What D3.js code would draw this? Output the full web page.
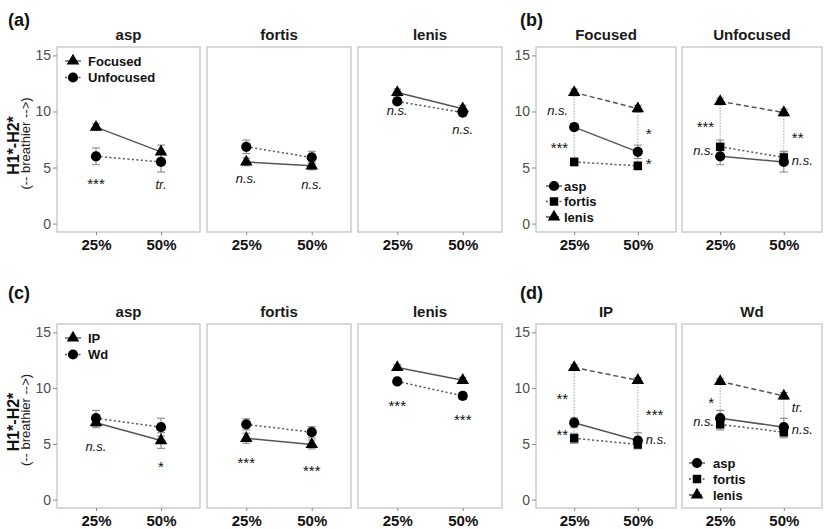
<!DOCTYPE html>
<html><head><meta charset="utf-8">
<script src="https://cdn.jsdelivr.net/npm/d3@7"></script>
<style>body{margin:0;background:#fff;} text{font-family:"Liberation Sans",Arial,Helvetica,sans-serif;}</style>
</head><body><svg id="chart" width="827" height="529"></svg>
<script>
const timePoints = ["25%", "50%"];
const consonants = ["asp", "fortis", "lenis"];
const focusLevels = ["Focused", "Unfocused"];
const prosodyLevels = ["IP", "Wd"];
const yTicks = [0, 5, 10, 15];
// means / standard errors by consonant (asp, fortis, lenis) x time (25%, 50%)
const focusedMeans   = [[8.6, 6.4], [5.5, 5.15], [11.7, 10.25]];
const focusedSE      = [[0.3, 0.6], [0.35, 0.35], [0.3, 0.3]];
const unfocusedMeans = [[6.0, 5.5], [6.85, 5.9], [10.9, 9.9]];
const unfocusedSE    = [[0.75, 0.9], [0.6, 0.55], [0.3, 0.3]];
const ipMeans        = [[6.9, 5.3], [5.5, 4.95], [11.85, 10.7]];
const ipSE           = [[0.45, 0.7], [0.45, 0.4], [0.25, 0.25]];
const wdMeans        = [[7.3, 6.5], [6.75, 6.05], [10.6, 9.3]];
const wdSE           = [[0.7, 0.8], [0.5, 0.5], [0.25, 0.3]];
// significance labels: [facet, time, y-value, label]
const sigA = [["asp","25%",3.9,"***"],["asp","50%",3.4,"tr."],["fortis","25%",3.9,"n.s."],["fortis","50%",3.4,"n.s."],["lenis","25%",10.0,"n.s."],["lenis","50%",8.3,"n.s."]];
const sigB = [["Focused","25%",10.0,"n.s."],["Focused","25%",7.05,"***"],["Focused","50%",8.3,"*"],["Focused","50%",5.7,"*"],["Unfocused","25%",8.93,"***"],["Unfocused","25%",6.43,"n.s."],["Unfocused","50%",7.95,"**"],["Unfocused","50%",5.54,"n.s."]];
const sigC = [["asp","25%",4.7,"n.s."],["asp","50%",3.28,"*"],["fortis","25%",3.64,"***"],["fortis","50%",2.93,"***"],["lenis","25%",8.72,"***"],["lenis","50%",7.48,"***"]];
const sigD = [["IP","25%",9.4,"**"],["IP","25%",6.12,"**"],["IP","50%",7.92,"***"],["IP","50%",5.32,"n.s."],["Wd","25%",9.05,"*"],["Wd","25%",6.92,"n.s."],["Wd","50%",8.16,"tr."],["Wd","50%",6.21,"n.s."]];

const svg = d3.select("#chart");
svg.append("rect").attr("width", 827).attr("height", 529).attr("fill", "#fff");

const LINE = "#555", ERR = "#8a8a8a", BORDER = "#c8c8c8";
const styleA = { Focused: { sym: d3.symbolTriangle, size: 68, dash: null },
                 Unfocused: { sym: d3.symbolCircle, size: 82, dash: "2,2.5" } };
const styleC = { IP: styleA.Focused, Wd: styleA.Unfocused };
const styleCons = { asp: { sym: d3.symbolCircle, size: 82, dash: null },
                    fortis: { sym: d3.symbolSquare, size: 72, dash: "2,2.5" },
                    lenis: { sym: d3.symbolTriangle, size: 68, dash: "5,3" } };

function starOnly(t) { return /^\*+$/.test(t); }

function drawPanel(p) {
  const g = svg.append("g");
  const x = d3.scalePoint().domain(timePoints).range([p.left, p.right]).padding(0.6);
  const y = d3.scaleLinear().domain([-0.75, 15.75]).range([p.bottom, p.top]);
  g.append("rect").attr("x", p.left).attr("y", p.top).attr("width", p.right - p.left)
    .attr("height", p.bottom - p.top).attr("fill", "none").attr("stroke", BORDER).attr("stroke-width", 1.4);
  g.append("text").attr("x", (p.left + p.right) / 2).attr("y", p.top - 7).attr("text-anchor", "middle")
    .attr("font-size", 15).attr("font-weight", "bold").attr("fill", "#1a1a1a").text(p.title);
  const xa = g.append("g").attr("transform", `translate(0,${p.bottom})`)
    .call(d3.axisBottom(x).tickSize(3).tickPadding(4));
  xa.select(".domain").remove();
  xa.selectAll("line").attr("stroke", "#888");
  xa.selectAll("text").attr("font-size", 15).attr("font-weight", "bold").attr("fill", "#111")
    .attr("font-family", '"Liberation Sans",Arial,sans-serif');
  if (p.yAxis) {
    const ya = g.append("g").attr("transform", `translate(${p.left},0)`)
      .call(d3.axisLeft(y).tickValues(yTicks).tickSize(4).tickPadding(2));
    ya.select(".domain").remove();
    ya.selectAll("line").attr("stroke", "#888");
    ya.selectAll("text").attr("font-size", 14).attr("fill", "#4d4d4d")
      .attr("font-family", '"Liberation Sans",Arial,sans-serif');
  }
  if (p.connectors) {
    timePoints.forEach((t, i) => {
      const vals = p.series.map(s => s.means[i]);
      g.append("line").attr("x1", x(t)).attr("x2", x(t))
        .attr("y1", y(d3.max(vals))).attr("y2", y(d3.min(vals)))
        .attr("stroke", "#a0a0a0").attr("stroke-width", 1).attr("stroke-dasharray", "1.5,1.5");
    });
  }
  p.series.forEach(s => {
    timePoints.forEach((t, i) => {
      const lo = y(s.means[i] - s.se[i]), hi = y(s.means[i] + s.se[i]), cx = x(t);
      g.append("line").attr("x1", cx).attr("x2", cx).attr("y1", lo).attr("y2", hi).attr("stroke", ERR).attr("stroke-width", 1.1);
      [lo, hi].forEach(yy => g.append("line").attr("x1", cx - 4).attr("x2", cx + 4).attr("y1", yy).attr("y2", yy)
        .attr("stroke", ERR).attr("stroke-width", 1.1));
    });
  });
  p.series.forEach(s => {
    const line = d3.line().x((d, i) => x(timePoints[i])).y(d => y(d));
    g.append("path").attr("d", line(s.means)).attr("fill", "none").attr("stroke", LINE)
      .attr("stroke-width", 1.5).attr("stroke-dasharray", s.style.dash);
  });
  p.series.forEach(s => {
    timePoints.forEach((t, i) => {
      g.append("path").attr("d", d3.symbol().type(s.style.sym).size(s.style.size)())
        .attr("transform", `translate(${x(t)},${y(s.means[i])})`).attr("fill", "#000");
    });
  });
  p.sig.forEach(([f, t, v, lab]) => {
    let ax = x(t), anchor = "middle";
    if (p.sideLabels) {
      if (t === timePoints[0]) { ax = x(t) - 6; anchor = "end"; }
      else { ax = x(t) + 8; anchor = "start"; }
    }
    const star = starOnly(lab);
    const fs = star ? 15 : 13;
    const off = star ? 0.59 * fs : 0.27 * fs;
    g.append("text").attr("x", ax).attr("y", y(v) + off).attr("text-anchor", anchor)
      .attr("font-size", fs).attr("font-style", star ? "normal" : "italic")
      .attr("fill", "#111").text(lab);
  });
  return { x, y };
}

function drawLegend(items, sx, tx, ys) {
  items.forEach((it, i) => {
    const yy = ys[i];
    svg.append("line").attr("x1", sx - 8).attr("x2", sx + 8).attr("y1", yy).attr("y2", yy)
      .attr("stroke", LINE).attr("stroke-width", 1.4).attr("stroke-dasharray", it.style.dash);
    svg.append("path").attr("d", d3.symbol().type(it.style.sym).size(it.style.size)())
      .attr("transform", `translate(${sx},${yy})`).attr("fill", "#000");
    svg.append("text").attr("x", tx).attr("y", yy + 4.6).attr("font-size", 13).attr("font-weight", "bold")
      .attr("fill", "#111").text(it.label);
  });
}

const rows = [{ top: 47, bottom: 232 }, { top: 324, bottom: 508 }];
const leftCols = [[57, 200], [207, 351], [358, 502]];
const rightCols = [[536, 676], [682, 822]];

[[focusedMeans, focusedSE, unfocusedMeans, unfocusedSE, focusLevels, styleA, sigA, rows[0]],
 [ipMeans, ipSE, wdMeans, wdSE, prosodyLevels, styleC, sigC, rows[1]]].forEach(([m1, s1, m2, s2, lv, st, sig, row]) => {
  consonants.forEach((c, ci) => {
    drawPanel({
      left: leftCols[ci][0], right: leftCols[ci][1], top: row.top, bottom: row.bottom, title: c,
      yAxis: ci === 0, connectors: false, sideLabels: false,
      series: [{ means: m1[ci], se: s1[ci], style: st[lv[0]] }, { means: m2[ci], se: s2[ci], style: st[lv[1]] }],
      sig: sig.filter(d => d[0] === c)
    });
  });
  drawLegend(lv.map(l => ({ label: l, style: st[l] })), leftCols[0][0] + 16, leftCols[0][0] + 31,
    [row.top + 14, row.top + 30.5]);
});

[[[focusedMeans, focusedSE], [unfocusedMeans, unfocusedSE], focusLevels, sigB, rows[0]],
 [[ipMeans, ipSE], [wdMeans, wdSE], prosodyLevels, sigD, rows[1]]].forEach(([a, b, lv, sig, row]) => {
  [a, b].forEach(([means, se], fi) => {
    drawPanel({
      left: rightCols[fi][0], right: rightCols[fi][1], top: row.top, bottom: row.bottom, title: lv[fi],
      yAxis: fi === 0, connectors: true, sideLabels: true,
      series: consonants.map((c, ci) => ({ means: means[ci], se: se[ci], style: styleCons[c] })),
      sig: sig.filter(d => d[0] === lv[fi])
    });
  });
});
drawLegend(consonants.map(c => ({ label: c, style: styleCons[c] })), rightCols[0][0] + 18, rightCols[0][0] + 28,
  [rows[0].bottom - 46, rows[0].bottom - 30.5, rows[0].bottom - 15]);
drawLegend(consonants.map(c => ({ label: c, style: styleCons[c] })), rightCols[1][0] + 15, rightCols[1][0] + 31,
  [rows[1].bottom - 45, rows[1].bottom - 29, rows[1].bottom - 13]);

[["(a)", 8, 26], ["(b)", 520, 26], ["(c)", 8, 299], ["(d)", 520, 299]].forEach(([t, xx, yy]) =>
  svg.append("text").attr("x", xx).attr("y", yy).attr("font-size", 18).attr("font-weight", "bold").attr("fill", "#111").text(t));

rows.forEach(row => {
  const cy = (row.top + row.bottom) / 2 + 6;
  svg.append("text").attr("transform", `translate(19,${cy}) rotate(-90)`).attr("text-anchor", "middle")
    .attr("font-size", 16).attr("font-weight", "bold").attr("fill", "#111").text("H1*-H2*");
  svg.append("text").attr("transform", `translate(30,${cy - 2}) rotate(-90)`).attr("text-anchor", "middle")
    .attr("font-size", 13).attr("fill", "#222").text("(-- breathier -->)");
});
</script></body></html>
